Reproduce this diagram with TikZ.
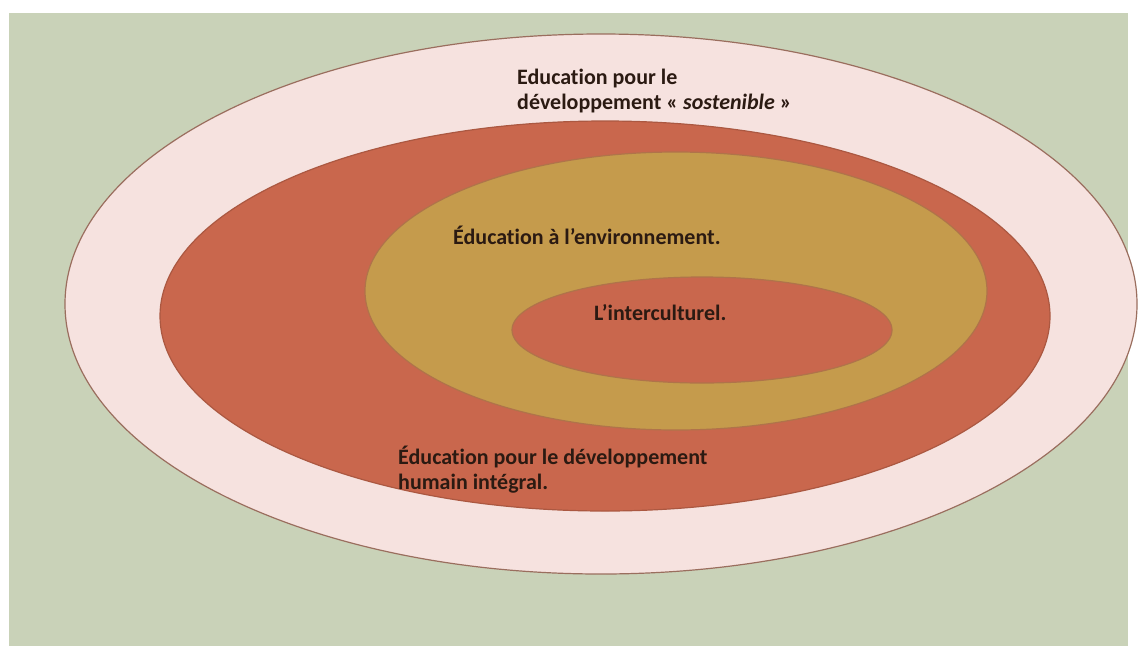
\documentclass[tikz,border=0pt]{standalone}
\usepackage{fontspec}
\setmainfont{Carlito}[Ligatures=NoCommon]
\definecolor{bggreen}{HTML}{C9D2B8}
\definecolor{outerfill}{HTML}{F6E2DF}
\definecolor{outerline}{HTML}{9A6E5E}
\definecolor{redfill}{HTML}{C9674D}
\definecolor{tanfill}{HTML}{C59B4C}
\definecolor{tanline}{HTML}{B0734A}
\definecolor{txt}{HTML}{2B1A12}
\tikzset{
  ring/.style={line width=1.2pt},
  lbl/.style={font=\bfseries\fontsize{22}{25}\selectfont, text=txt, align=left, inner sep=0pt, anchor=north west}
}
\begin{document}
\begin{tikzpicture}[x=1pt,y=-1pt]
\useasboundingbox (0,0) rectangle (1139,646);
\fill[white] (0,0) rectangle (1139,646);
\fill[bggreen] (9,13) rectangle (1128,646);
\draw[ring, fill=outerfill, draw=outerline] (601,304) ellipse [x radius=536, y radius=270];
\draw[ring, fill=redfill, draw=redfill!85!black] (605,316) ellipse [x radius=445, y radius=195];
\draw[ring, fill=tanfill, draw=tanline] (676,291) ellipse [x radius=311, y radius=139];
\draw[ring, fill=redfill, draw=tanline] (702,330) ellipse [x radius=190, y radius=53];
\node[lbl] (t1) at (517,69) {Education pour le\\développement « \textit{sostenible} »};
\node[lbl] (t2) at (453,226) {Éducation à l’environnement.};
\node[lbl] (t3) at (594,304) {L’interculturel.};
\node[lbl] (t4) at (398,446) {Éducation pour le développement\\humain intégral.};
\end{tikzpicture}
\end{document}
